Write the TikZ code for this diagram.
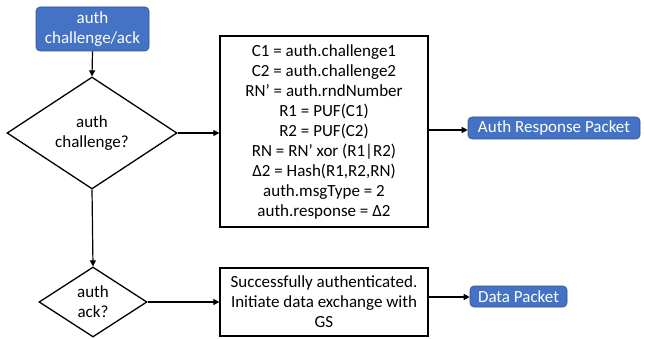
\documentclass[tikz,border=0pt]{standalone}
\usepackage{fontspec}
\setmainfont{Carlito}
\usetikzlibrary{shapes.geometric,arrows.meta}
\definecolor{offblue}{RGB}{68,114,196}
\definecolor{offborder}{RGB}{47,82,143}
\newcommand{\sq}{\symbol{39}}
\begin{document}
\begin{tikzpicture}[x=1pt,y=-1pt,
  every node/.style={font=\fontsize{17}{20}\selectfont},
  bluebox/.style={rectangle, rounded corners=4pt, fill=offblue, draw=offborder, line width=0.6pt, text=white, align=center, inner sep=0pt},
  procbox/.style={rectangle, draw=black, line width=1.3pt, align=center, inner sep=0pt},
  decision/.style={diamond, draw=black, line width=1.3pt, align=center, inner sep=0pt},
  conn/.style={line width=1.2pt, -{Triangle[length=6pt,width=6pt]}}]
\useasboundingbox (0,0) rectangle (645,339);
\fill[white] (0,0) rectangle (645,339);

\node[bluebox, minimum width=113pt, minimum height=44pt] (start) at (92.5,29) {auth\\challenge/ack};
\node[decision, minimum width=170pt, minimum height=112pt] (d1) at (92,133) {auth\\challenge?};
\node[procbox, minimum width=208pt, minimum height=191pt] (calc) at (324,131.5)
  {C1 = auth.challenge1\\C2 = auth.challenge2\\RN\sq{} = auth.rndNumber\\R1 = PUF(C1)\\R2 = PUF(C2)\\RN = RN\sq{} xor (R1|R2)\\Δ2 = Hash(R1,R2,RN)\\auth.msgType = 2\\auth.response = Δ2};
\node[bluebox, minimum width=172pt, minimum height=22pt] (resp) at (554,128) {Auth Response Packet};
\node[decision, minimum width=108pt, minimum height=70pt] (d2) at (93,302) {auth\\ack?};
\node[procbox, minimum width=208pt, minimum height=68pt] (succ) at (324,302)
  {Successfully authenticated.\\Initiate data exchange with\\GS};
\node[bluebox, minimum width=97pt, minimum height=21pt] (data) at (518.5,296.5) {Data Packet};

\draw[conn] (start.south) -- (d1.north);
\draw[conn] (d1.east) -- (calc.west |- d1.east);
\draw[conn] (calc.east |- 0,130) -- (resp.west |- 0,130);
\draw[conn] (d1.south) -- (d2.north);
\draw[conn] (d2.east) -- (succ.west |- d2.east);
\draw[conn] (succ.east |- 0,297) -- (data.west |- 0,297);
\end{tikzpicture}
\end{document}
